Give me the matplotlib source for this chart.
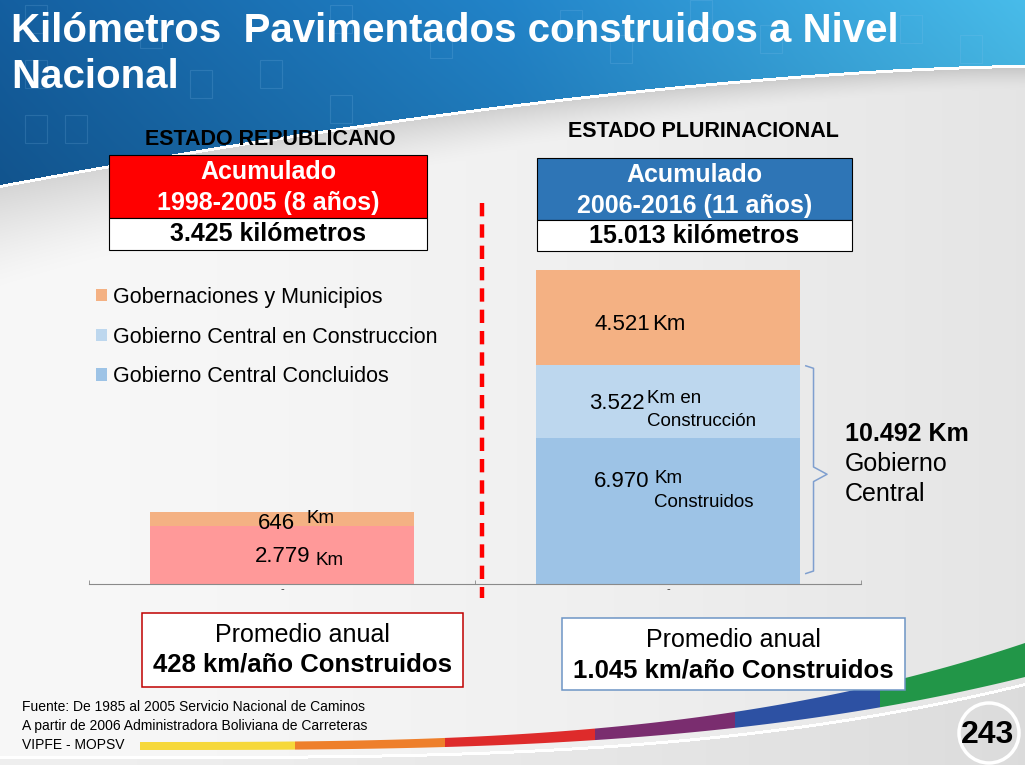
import numpy as np
import matplotlib
matplotlib.use('Agg')
import matplotlib.pyplot as plt
from matplotlib.patches import Rectangle, Polygon, Circle

plt.rcParams['font.family'] = ['Liberation Sans', 'DejaVu Sans']

# ---- data ----
periods = ['Estado Republicano', 'Estado Plurinacional']
concluidos = [2779, 6970]
en_construccion = [0, 3522]
gobernaciones = [646, 4521]
totals = [3425, 15013]
central_total = 10492
series_labels = ['Gobierno Central Concluidos', 'Gobierno Central en Construccion',
                 'Gobernaciones y Municipios']
estado_titles = ['ESTADO REPUBLICANO', 'ESTADO PLURINACIONAL']
acumulado_years = ['1998-2005 (8 años)', '2006-2016 (11 años)']
acumulado_km = ['3.425 kilómetros', '15.013 kilómetros']
promedio = ['428 km/año Construidos', '1.045 km/año Construidos']
fuente = ['Fuente: De 1985 al 2005 Servicio Nacional de Caminos',
          'A partir de 2006 Administradora Boliviana de Carreteras',
          'VIPFE - MOPSV']
page = '243'

W, H = 1025, 765
fig = plt.figure(figsize=(W / 100, H / 100), dpi=100)

# ---- slide background (gray gradient, blue header, swoosh) ----
bg = fig.add_axes([0, 0, 1, 1], zorder=0)
bg.set_xlim(0, W)
bg.set_ylim(H, 0)
bg.axis('off')
X, Y = np.meshgrid(np.arange(W) + 0.5, np.arange(H) + 0.5)
u = X / W
b = 0.972 - 0.075 * u ** 1.5
edge = 65 + 120 * (1 - u) ** 1.6
d = Y - edge
bw = 25 + 85 * (1 - u) ** 2
band = (d > 0) & (d < bw)
b = np.where(band, b - 0.14 * np.clip(1 - d / bw, 0, 1) ** 1.5, b)
# lower swoosh below rainbow
t_all = np.clip((X - 140) / 885, 0, 1)
y_low = 746 - 86 * t_all ** 3 + (8 + 26 * t_all ** 3) / 2 + 6
b = np.where(Y > y_low + 2, b - 0.035, b)
img = np.dstack([b, b, b])
img[(d >= 0) & (d < 3)] = 1.0
img[(Y >= y_low) & (Y < y_low + 3)] = 1.0
c_left = np.array([0x14, 0x5f, 0xa0]) / 255
c_mid = np.array([0x22, 0x84, 0xc9]) / 255
c_right = np.array([0x48, 0xbc, 0xea]) / 255
tt = u[..., None]
blue = np.where(tt < 0.5, c_left + (c_mid - c_left) * (tt / 0.5),
                c_mid + (c_right - c_mid) * ((tt - 0.5) / 0.5))
blue = blue * (1 - 0.12 * np.clip(Y / 190, 0, 1))[..., None]
img[d < 0] = blue[d < 0]
bg.imshow(img, extent=(0, W, H, 0), aspect='auto', interpolation='bilinear')

# faint squares in header
for sx, sy in [(25, 5), (140, 20), (330, 5), (430, 30), (560, 10), (690, 0), (760, 25),
               (900, 15), (960, 35), (25, 60), (190, 70), (260, 60), (330, 95), (25, 115),
               (65, 115), (610, 35), (850, 45)]:
    if sy + 30 < 65 + 120 * (1 - sx / W) ** 1.6:
        bg.add_patch(Rectangle((sx, sy), 22, 28, fill=False, ec='#8cc4ee', lw=0.8, alpha=0.18))

# rainbow strip
rb_colors = ['#f6d83a', '#ee7f2b', '#de2b2b', '#7a2d6f', '#2d51a3', '#229648']
rb_edges = [140, 295, 445, 595, 735, 880, 1025]
for i, col in enumerate(rb_colors):
    xs = np.linspace(rb_edges[i], rb_edges[i + 1], 40)
    t = (xs - 140) / 885
    yc = 746 - 86 * t ** 3
    w = 8 + 26 * t ** 3
    pts = np.concatenate([np.c_[xs, yc - w / 2], np.c_[xs[::-1], (yc + w / 2)[::-1]]])
    bg.add_patch(Polygon(pts, closed=True, fc=col, ec='none'))

# ---- bar chart ----
ax = fig.add_axes([89 / W, (H - 584) / H, 772 / W, 314 / H], zorder=2)
ax.patch.set_alpha(0)
x = np.arange(len(periods))
bw_bar = 0.684
bottom2 = np.array(concluidos) + np.array(en_construccion)
b1 = ax.bar(x, concluidos, bw_bar, color=['#ff9999', '#9dc3e6'], label=series_labels[0])
b2 = ax.bar(x, en_construccion, bw_bar, bottom=concluidos, color='#bdd7ee', label=series_labels[1])
b3 = ax.bar(x, gobernaciones, bw_bar, bottom=bottom2, color='#f4b183', label=series_labels[2])
ax.set_xlim(-0.5, 1.5)
ax.set_ylim(0, totals[1])
for s in ['top', 'right', 'left']:
    ax.spines[s].set_visible(False)
ax.spines['bottom'].set_color('#8a8a8a')
ax.set_yticks([])
ax.set_xticks(x)
ax.set_xticklabels(['-', '-'], fontsize=8, color='#333333')
ax.tick_params(axis='x', length=0, pad=0)
ax.set_xticks([-0.5, 0.5, 1.5], minor=True)
ax.tick_params(axis='x', which='minor', direction='in', length=3, color='#8a8a8a')

# legend (series listed top to bottom like the slide)
h1 = Rectangle((0, 0), 1, 1, fc='#9dc3e6')
leg = ax.legend([b3, b2, h1], [series_labels[2], series_labels[1], series_labels[0]],
                loc='upper left', bbox_to_anchor=(96 / W, (H - 287) / H),
                bbox_transform=fig.transFigure, frameon=False, fontsize=15.5,
                handlelength=0.5, handleheight=0.5, handletextpad=0.3,
                labelspacing=0.86, borderpad=0, borderaxespad=0)

# segment labels
kw = dict(fontsize=16, color='black')
ax.text(0.034, concluidos[0] + gobernaciones[0] * 0.14, f'{gobernaciones[0]}', ha='right', va='center', **kw)
ax.text(0.101, concluidos[0] + gobernaciones[0] * 0.51, 'Km', ha='center', va='center', fontsize=13.5)
ax.text(0.073, concluidos[0] * 0.47, '2.779', ha='right', va='center', **kw)
ax.text(0.088, concluidos[0] * 0.40, 'Km', ha='left', va='center', fontsize=13.5)
ax.text(0.953, bottom2[1] + gobernaciones[1] * 0.42, '4.521', ha='right', va='center', **kw)
ax.text(0.958, bottom2[1] + gobernaciones[1] * 0.42, 'Km', ha='left', va='center', **kw)
ax.text(0.94, concluidos[1] + en_construccion[1] * 0.47, '3.522', ha='right', va='center', **kw)
ax.text(0.946, concluidos[1] + en_construccion[1] * 0.38, 'Km en\nConstrucción',
        ha='left', va='center', fontsize=13.5, linespacing=1.5)
ax.text(0.953, concluidos[1] * 0.70, '6.970', ha='right', va='center', **kw)
ax.text(0.965, concluidos[1] * 0.642, 'Km\nConstruidos', ha='left', va='center',
        fontsize=13.5, linespacing=1.5)

# brace for Gobierno Central
bx0 = 1 + bw_bar / 2 + 0.015
bx1 = bx0 + 0.02
bxm = bx1 + 0.035
ym = central_total / 2
yt = central_total - 60
yb = 500
ax.plot([bx0, bx1, bx1, bxm, bx1, bx1, bx0],
        [yt, yt - 120, ym + 350, ym, ym - 350, yb + 120, yb],
        color='#7f9fcf', lw=1.1, clip_on=False)

# ---- overlay texts and boxes (slide pixel coords) ----
ov = fig.add_axes([0, 0, 1, 1], zorder=3)
ov.set_xlim(0, W)
ov.set_ylim(H, 0)
ov.axis('off')

ov.text(11, 42, 'Kilómetros  Pavimentados construidos a Nivel', color='white',
        fontsize=29, fontweight='bold', va='baseline')
ov.text(11, 88, 'Nacional', color='white', fontsize=29, fontweight='bold', va='baseline')

ov.text(270, 139, estado_titles[0], fontsize=15.5, fontweight='bold', ha='center', va='center')
ov.text(703, 131, estado_titles[1], fontsize=15.5, fontweight='bold', ha='center', va='center')

box_specs = [(109, 155, 318, 63, 32, '#ff0000'), (537, 158, 315, 62, 31, '#2e75b6')]
for i, (bx, by, bwid, hh, hl, col) in enumerate(box_specs):
    ov.add_patch(Rectangle((bx, by), bwid, hh, fc=col, ec='black', lw=0.8))
    ov.add_patch(Rectangle((bx, by + hh), bwid, hl, fc='white', ec='black', lw=0.8))
    cx = bx + bwid / 2
    ov.text(cx, by + 17, 'Acumulado', color='white', fontsize=18, fontweight='bold',
            ha='center', va='center')
    ov.text(cx, by + 48, acumulado_years[i], color='white', fontsize=18, fontweight='bold',
            ha='center', va='center')
    ov.text(cx, by + hh + hl / 2, acumulado_km[i], color='black', fontsize=18,
            fontweight='bold', ha='center', va='center')

ov.plot([482, 482], [203, 598], color='#ff0000', lw=3.2, dashes=(3, 1.8))

ov.text(845, 434, '10.492 Km', fontsize=18, fontweight='bold', va='center')
ov.text(845, 464, 'Gobierno', fontsize=18, va='center')
ov.text(845, 494, 'Central', fontsize=18, va='center')

prom_boxes = [(142, 613, 321, 74, '#c00000'), (562, 618, 343, 72, '#6d95c5')]
for i, (bx, by, bwid, hh, col) in enumerate(prom_boxes):
    ov.add_patch(Rectangle((bx, by), bwid, hh, fc='white', ec=col, lw=1.1))
    cx = bx + bwid / 2
    ov.text(cx, by + 22, 'Promedio anual', fontsize=18, ha='center', va='center')
    ov.text(cx, by + 52, promedio[i], fontsize=18.5, fontweight='bold', ha='center', va='center')

for i, line in enumerate(fuente):
    ov.text(22, 707 + 19 * i, line, fontsize=10, va='center')

ov.add_patch(Circle((989, 733), 30, fill=False, ec='white', lw=2.5))
ov.text(988, 735, page, fontsize=23, fontweight='bold', ha='center', va='center')

fig.savefig('out.png', dpi=100)
